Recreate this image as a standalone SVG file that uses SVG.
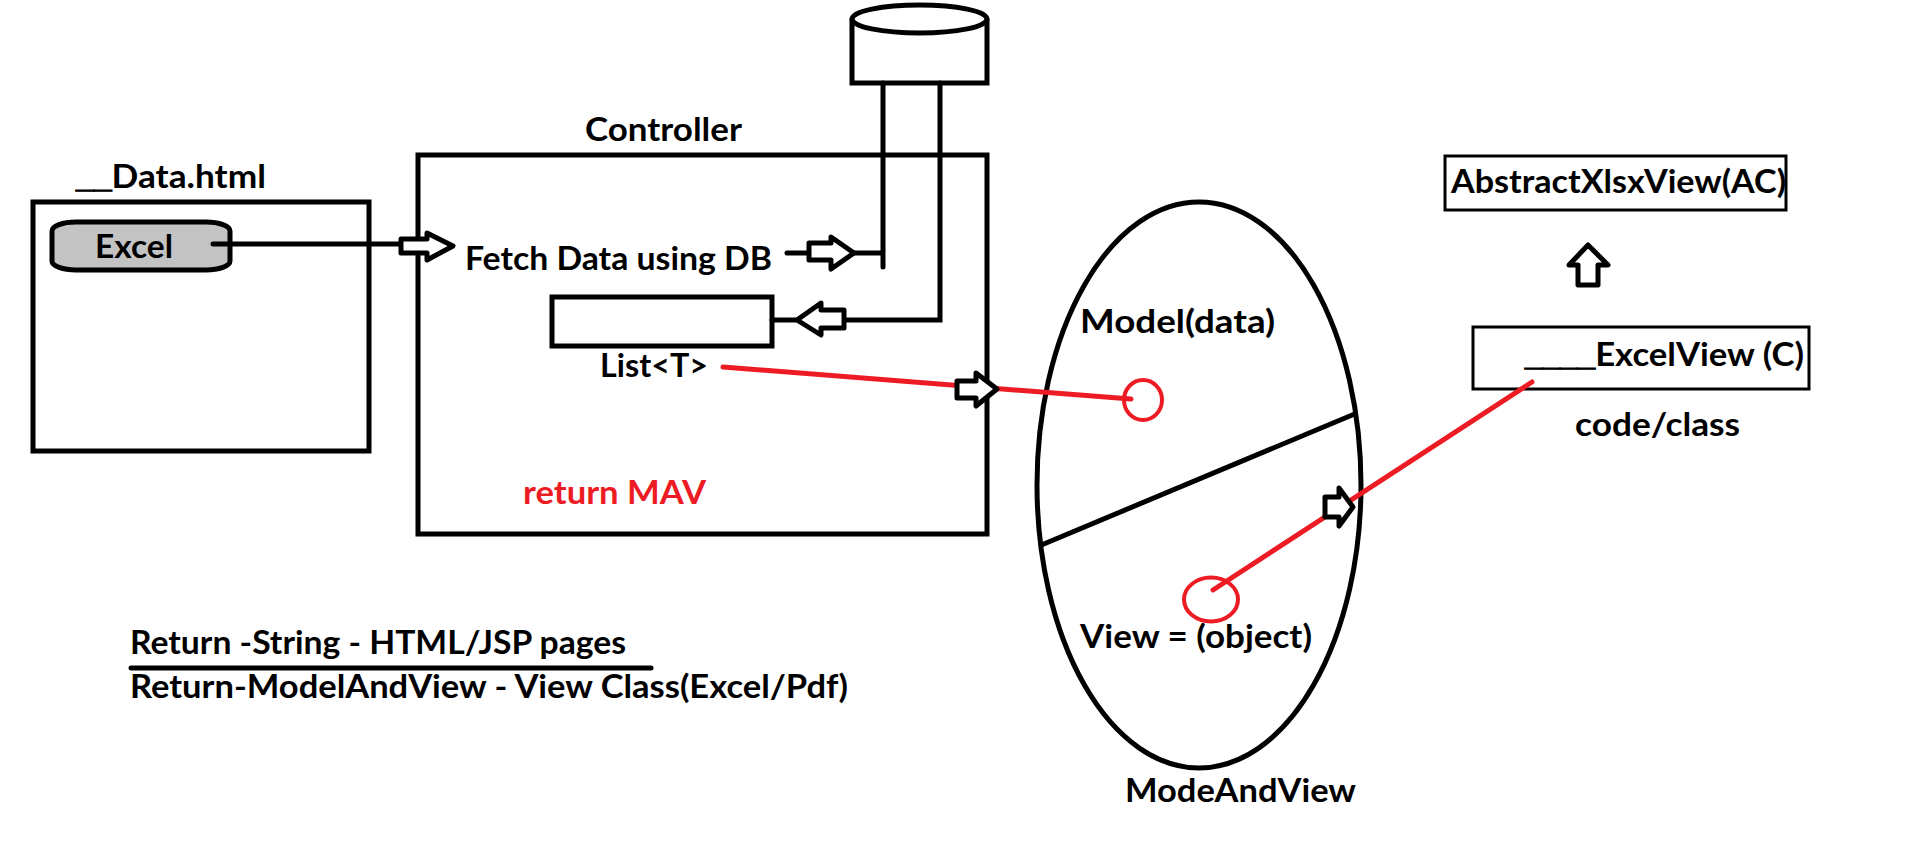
<svg xmlns="http://www.w3.org/2000/svg" width="1914" height="860" viewBox="0 0 1914 860">
<style>
.s{fill:none;stroke:#000;stroke-width:5}
.t{fill:none;stroke:#000;stroke-width:3}
.k{fill:none;stroke:#000;stroke-width:5;stroke-linecap:round}
.r{fill:none;stroke:#ed1c24;stroke-width:5;stroke-linecap:round}
.a{fill:#fff;stroke:#000;stroke-width:5;stroke-linejoin:round}
text{font-family:"Lato","Liberation Sans",sans-serif;font-weight:700;font-size:33px;fill:#000}
.u{font-family:"Liberation Sans",sans-serif;font-size:30px;stroke:#000;stroke-width:1.2}
.red{fill:#ed1c24}
</style>
<rect width="1914" height="860" fill="#fff"/>
<g id="data-page">
<rect class="s" x="33" y="202" width="336" height="249"/>
<text x="76" y="188" textLength="190" lengthAdjust="spacingAndGlyphs"><tspan class="u">__</tspan>Data.html</text>
</g>
<g id="excel-button">
<rect x="52" y="222" width="178" height="48" rx="24" ry="9" fill="#c3c3c3" stroke="#000" stroke-width="5"/>
<text x="95" y="258" textLength="78" lengthAdjust="spacingAndGlyphs">Excel</text>
</g>
<g id="controller">
<rect class="s" x="418" y="155" width="569" height="379"/>
<text x="585" y="141" textLength="157" lengthAdjust="spacingAndGlyphs">Controller</text>
<text x="465" y="270" textLength="307" lengthAdjust="spacingAndGlyphs">Fetch Data using DB</text>
<text class="red" x="523" y="504" textLength="183" lengthAdjust="spacingAndGlyphs">return MAV</text>
</g>
<g id="list">
<rect class="s" x="552" y="297" width="220" height="49"/>
<text x="600" y="377" textLength="108" lengthAdjust="spacingAndGlyphs">List&lt;T&gt;</text>
</g>
<g id="database">
<path class="s" d="M852 19V83H987V19"/>
<ellipse class="s" cx="919.500" cy="19" rx="67.500" ry="14"/>
</g>
<g id="model-and-view">
<ellipse class="s" cx="1199" cy="485" rx="162" ry="283"/>
<line class="s" x1="1039" y1="546" x2="1357" y2="413"/>
<text x="1080" y="333" textLength="195" lengthAdjust="spacingAndGlyphs">Model(data)</text>
<text x="1080" y="648" textLength="232" lengthAdjust="spacingAndGlyphs">View = (object)</text>
<text x="1125" y="802" textLength="231" lengthAdjust="spacingAndGlyphs">ModeAndView</text>
<ellipse cx="1143" cy="400" rx="19" ry="20" fill="none" stroke="#ed1c24" stroke-width="4"/>
<ellipse cx="1211" cy="599.500" rx="27" ry="22" fill="none" stroke="#ed1c24" stroke-width="4"/>
</g>
<g id="abstract-view">
<rect class="t" x="1445" y="156" width="341" height="54"/>
<text x="1451" y="193" textLength="335" lengthAdjust="spacingAndGlyphs">AbstractXlsxView(AC)</text>
</g>
<g id="excel-view">
<rect class="t" x="1473" y="327" width="336" height="62"/>
<text x="1525" y="366" textLength="279" lengthAdjust="spacingAndGlyphs"><tspan class="u">____</tspan>ExcelView (C)</text>
<text x="1575" y="436" textLength="165" lengthAdjust="spacingAndGlyphs">code/class</text>
</g>
<g id="notes">
<text x="130" y="654" textLength="496" lengthAdjust="spacingAndGlyphs">Return -String - HTML/JSP pages</text>
<line class="k" x1="131" y1="668" x2="651" y2="668"/>
<text x="130" y="698" textLength="718" lengthAdjust="spacingAndGlyphs">Return-ModelAndView - View Class(Excel/Pdf)</text>
</g>
<g id="connectors">
<path class="k" d="M213 244H400"/>
<path class="k" d="M883 83V267M787 253H883"/>
<path class="k" d="M940 83V320H772"/>
<line class="r" x1="723" y1="367" x2="1131" y2="399"/>
<line class="r" x1="1213" y1="590" x2="1532" y2="382"/>
<polygon class="a" points="401,239 427,239 427,233 453,246 427,260 427,253 401,253"/>
<polygon class="a" points="809,243 831,243 831,237 854,253 831,269 831,260 809,260"/>
<polygon class="a" points="844,310 821,310 821,303 797,320 821,335 821,328 844,328"/>
<polygon class="a" points="957,381 976,381 976,373 997,389 976,406 976,398 957,398"/>
<polygon class="a" points="1325,497 1339,497 1339,488 1353,507 1339,526 1339,517 1325,517"/>
<polygon class="a" points="1578,285 1578,265 1569,265 1588,245 1608,265 1598,265 1598,285"/>
</g>
</svg>
